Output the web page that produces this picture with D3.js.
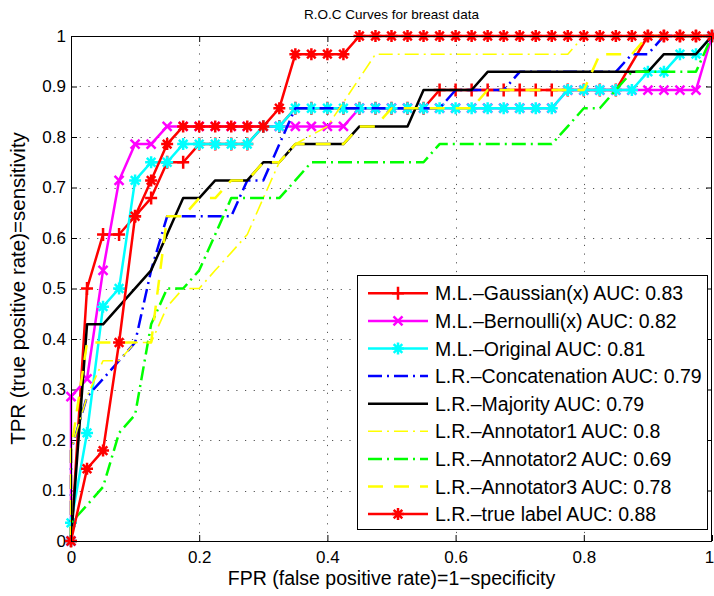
<!DOCTYPE html>
<html><head><meta charset="utf-8">
<script src="https://cdn.jsdelivr.net/npm/d3@7"></script>
<style>
body{margin:0;background:#fff}
svg{display:block}
text{font-family:"Liberation Sans",Arial,Helvetica,sans-serif;fill:#000}
</style>
</head><body>
<svg id="chart" width="714" height="596"></svg>
<script>
// ---------------- DATA (FPR, TPR pairs) ----------------
const gaussian = [[0,0],[0.025,0.5],[0.05,0.607],[0.075,0.607],[0.1,0.643],[0.125,0.679],[0.15,0.75],[0.175,0.75],[0.2,0.786],[0.225,0.786],[0.25,0.786],[0.275,0.786],[0.3,0.821],[0.325,0.821],[0.35,0.857],[0.375,0.857],[0.4,0.857],[0.425,0.857],[0.45,0.857],[0.475,0.857],[0.5,0.857],[0.525,0.857],[0.55,0.857],[0.575,0.893],[0.6,0.893],[0.625,0.893],[0.65,0.893],[0.675,0.893],[0.7,0.893],[0.725,0.893],[0.75,0.893],[0.775,0.893],[0.8,0.893],[0.825,0.893],[0.85,0.893],[0.9,1],[0.925,1],[0.95,1],[0.975,1],[1,1]];
const bernoulli = [[0,0],[0,0.286],[0.025,0.321],[0.05,0.536],[0.075,0.714],[0.1,0.786],[0.125,0.786],[0.15,0.821],[0.175,0.821],[0.2,0.821],[0.225,0.821],[0.25,0.821],[0.275,0.821],[0.3,0.821],[0.325,0.821],[0.35,0.821],[0.375,0.821],[0.4,0.821],[0.425,0.821],[0.45,0.857],[0.475,0.857],[0.5,0.857],[0.525,0.857],[0.55,0.857],[0.575,0.857],[0.6,0.857],[0.625,0.857],[0.65,0.857],[0.675,0.857],[0.7,0.857],[0.725,0.857],[0.75,0.857],[0.775,0.893],[0.8,0.893],[0.825,0.893],[0.85,0.893],[0.875,0.893],[0.9,0.893],[0.925,0.893],[0.95,0.893],[0.975,0.893],[1,1]];
const original = [[0,0],[0,0.036],[0.025,0.214],[0.05,0.464],[0.075,0.5],[0.1,0.714],[0.125,0.75],[0.15,0.75],[0.175,0.786],[0.2,0.786],[0.225,0.786],[0.25,0.786],[0.275,0.786],[0.3,0.821],[0.325,0.821],[0.35,0.857],[0.375,0.857],[0.4,0.857],[0.425,0.857],[0.45,0.857],[0.475,0.857],[0.5,0.857],[0.525,0.857],[0.55,0.857],[0.575,0.857],[0.6,0.857],[0.625,0.857],[0.65,0.857],[0.675,0.857],[0.7,0.857],[0.725,0.857],[0.75,0.857],[0.775,0.893],[0.8,0.893],[0.825,0.893],[0.85,0.893],[0.875,0.893],[0.9,0.929],[0.925,0.929],[0.95,0.964],[0.975,0.964],[1,1]];
const concatenation = [[0,0],[0,0.179],[0.025,0.286],[0.05,0.321],[0.075,0.357],[0.1,0.393],[0.125,0.536],[0.15,0.643],[0.25,0.643],[0.275,0.714],[0.3,0.714],[0.35,0.857],[0.575,0.857],[0.6,0.893],[0.675,0.893],[0.7,0.929],[0.85,0.929],[0.875,0.964],[0.9,0.964],[0.925,1],[1,1]];
const majority = [[0,0],[0.025,0.429],[0.05,0.429],[0.125,0.536],[0.175,0.679],[0.2,0.679],[0.225,0.714],[0.275,0.714],[0.3,0.75],[0.325,0.75],[0.35,0.786],[0.425,0.786],[0.45,0.821],[0.525,0.821],[0.55,0.893],[0.625,0.893],[0.65,0.929],[0.9,0.929],[0.925,0.964],[0.975,0.964],[1,1]];
const annotator1 = [[0,0],[0,0.179],[0.025,0.286],[0.05,0.357],[0.075,0.357],[0.1,0.393],[0.125,0.393],[0.15,0.464],[0.175,0.5],[0.2,0.5],[0.225,0.536],[0.25,0.571],[0.275,0.607],[0.3,0.679],[0.325,0.75],[0.35,0.786],[0.4,0.821],[0.475,0.964],[0.775,0.964],[0.8,1],[1,1]];
const annotator2 = [[0,0],[0,0.036],[0.025,0.071],[0.05,0.107],[0.075,0.214],[0.1,0.25],[0.125,0.429],[0.15,0.5],[0.175,0.5],[0.2,0.536],[0.225,0.607],[0.25,0.679],[0.325,0.679],[0.35,0.714],[0.375,0.75],[0.55,0.75],[0.575,0.786],[0.75,0.786],[0.775,0.821],[0.8,0.857],[0.825,0.857],[0.85,0.893],[0.875,0.929],[0.975,0.929],[1,1]];
const annotator3 = [[0,0],[0,0.179],[0.025,0.393],[0.125,0.393],[0.15,0.643],[0.175,0.643],[0.2,0.679],[0.225,0.679],[0.25,0.714],[0.275,0.714],[0.3,0.75],[0.325,0.75],[0.35,0.786],[0.425,0.786],[0.45,0.821],[0.475,0.821],[0.5,0.857],[0.625,0.857],[0.65,0.893],[0.8,0.893],[0.825,0.964],[0.875,0.964],[0.9,1],[1,1]];
const trueLabel = [[0,0],[0.025,0.143],[0.05,0.179],[0.075,0.393],[0.1,0.643],[0.125,0.714],[0.15,0.786],[0.175,0.821],[0.2,0.821],[0.225,0.821],[0.25,0.821],[0.275,0.821],[0.3,0.821],[0.325,0.857],[0.35,0.964],[0.375,0.964],[0.4,0.964],[0.425,0.964],[0.45,1],[0.475,1],[0.5,1],[0.525,1],[0.55,1],[0.575,1],[0.6,1],[0.625,1],[0.65,1],[0.675,1],[0.7,1],[0.725,1],[0.75,1],[0.775,1],[0.8,1],[0.825,1],[0.85,1],[0.875,1],[0.9,1],[0.925,1],[0.95,1],[0.975,1],[1,1]];

const seriesLabels = ["M.L.\u2013Gaussian(x) AUC: 0.83","M.L.\u2013Bernoulli(x) AUC: 0.82","M.L.\u2013Original AUC: 0.81","L.R.\u2013Concatenation AUC: 0.79","L.R.\u2013Majority AUC: 0.79","L.R.\u2013Annotator1 AUC: 0.8","L.R.\u2013Annotator2 AUC: 0.69","L.R.\u2013Annotator3 AUC: 0.78","L.R.\u2013true label AUC: 0.88"];
const xTickValues = [0,0.2,0.4,0.6,0.8,1];
const xTickLabels = ["0","0.2","0.4","0.6","0.8","1"];
const yTickValues = [0,0.1,0.2,0.3,0.4,0.5,0.6,0.7,0.8,0.9,1];
const yTickLabels = ["0","0.1","0.2","0.3","0.4","0.5","0.6","0.7","0.8","0.9","1"];
const titleText = "R.O.C Curves for breast data";
const xLabelText = "FPR (false positive rate)=1\u2212specificity";
const yLabelText = "TPR (true positive rate)=sensitivity";

// ---------------- STYLES ----------------
const DASHDOT = "14,5,2,5", DASHED = "15,11";
const styles = [
  {color:"#ff0000", dash:null,    marker:"+", w:2.5},
  {color:"#ff00ff", dash:null,    marker:"x", w:2.5},
  {color:"#00ffff", dash:null,    marker:"*", w:2.5},
  {color:"#0000ff", dash:DASHDOT, marker:null, w:2.5},
  {color:"#000000", dash:null,    marker:null, w:2.5},
  {color:"#ffff00", dash:DASHDOT, marker:null, w:1.6},
  {color:"#00ff00", dash:DASHDOT, marker:null, w:2.5},
  {color:"#ffff00", dash:DASHED,  marker:null, w:2.5},
  {color:"#ff0000", dash:null,    marker:"*", w:2.5}
];
const allData = [gaussian,bernoulli,original,concatenation,majority,annotator1,annotator2,annotator3,trueLabel];

// ---------------- DRAW ----------------
const svg = d3.select("#chart");
const L=71, R=712, T=36, B=541;
const x = d3.scaleLinear().domain([0,1]).range([L,R]);
const y = d3.scaleLinear().domain([0,1]).range([B,T]);

svg.append("rect").attr("width",714).attr("height",596).attr("fill","#fff");

// grid
const grid = svg.append("g").attr("stroke","#555").attr("stroke-width",1).attr("stroke-dasharray","1.2,7.5");
grid.selectAll("line.gx").data(xTickValues.slice(1,-1)).join("line")
  .attr("x1",d=>Math.round(x(d))+0.5).attr("x2",d=>Math.round(x(d))+0.5).attr("y1",T).attr("y2",B);
grid.selectAll("line.gy").data(yTickValues.slice(1,-1)).join("line")
  .attr("y1",d=>Math.round(y(d))+0.5).attr("y2",d=>Math.round(y(d))+0.5).attr("x1",L).attr("x2",R);

// axes
const fs = 17;
const ax = svg.append("g").attr("transform",`translate(0,${B})`)
  .call(d3.axisBottom(x).tickValues(xTickValues).tickFormat((d,i)=>xTickLabels[i]).tickSizeInner(-6).tickSizeOuter(0).tickPadding(10));
const ay = svg.append("g").attr("transform",`translate(${L},0)`)
  .call(d3.axisLeft(y).tickValues(yTickValues).tickFormat((d,i)=>yTickLabels[i]).tickSizeInner(-6).tickSizeOuter(0).tickPadding(5));
const axT = svg.append("g").attr("transform",`translate(0,${T})`)
  .call(d3.axisTop(x).tickValues(xTickValues).tickFormat("").tickSizeInner(-6).tickSizeOuter(0));
const ayR = svg.append("g").attr("transform",`translate(${R},0)`)
  .call(d3.axisRight(y).tickValues(yTickValues).tickFormat("").tickSizeInner(-6).tickSizeOuter(0));
[ax,ay,axT,ayR].forEach(g=>{
  g.select(".domain").remove();
  g.selectAll("line").attr("stroke","#000");
  g.selectAll("text").attr("font-size",fs).attr("font-family","Liberation Sans, Arial, sans-serif").attr("fill","#000");
});
ax.selectAll(".tick text").filter(d=>d===1).attr("dx",-3);

// curves
const line = d3.line().x(d=>x(d[0])).y(d=>y(d[1]));
function markerPath(m){
  if(m==="+") return "M-6,0H6M0,-6.5V6.5";
  if(m==="x") return "M-4.5,-4.5L4.5,4.5M-4.5,4.5L4.5,-4.5";
  if(m==="*") return "M-6,0H6M0,-6V6M-4.3,-4.3L4.3,4.3M-4.3,4.3L4.3,-4.3";
  return "";
}
allData.forEach((data,i)=>{
  const s = styles[i];
  const g = svg.append("g");
  g.append("path").datum(data).attr("d",line).attr("fill","none")
    .attr("stroke",s.color).attr("stroke-width",s.w)
    .attr("stroke-dasharray",s.dash).attr("stroke-linejoin","round");
  if(s.marker){
    g.selectAll("path.m").data(data).join("path").attr("class","m")
      .attr("transform",d=>`translate(${x(d[0])},${y(d[1])})`)
      .attr("d",markerPath(s.marker)).attr("fill","none")
      .attr("stroke",s.color).attr("stroke-width",2.5);
  }
});

// axes box
svg.append("rect").attr("x",L+0.5).attr("y",T+0.5).attr("width",R-L-1).attr("height",B-T)
  .attr("fill","none").attr("stroke","#000").attr("stroke-width",1);

// title & labels
svg.append("text").attr("x",(L+R)/2).attr("y",19).attr("text-anchor","middle")
  .attr("font-size",13.5).text(titleText);
svg.append("text").attr("x",(L+R)/2).attr("y",585).attr("text-anchor","middle")
  .attr("font-size",19.5).text(xLabelText);
svg.append("text").attr("transform",`translate(25,${(T+B)/2}) rotate(-90)`).attr("text-anchor","middle")
  .attr("font-size",20.5).text(yLabelText);

// legend
const lg = svg.append("g");
lg.append("rect").attr("x",357.5).attr("y",275.5).attr("width",350).attr("height",254)
  .attr("fill","#fff").attr("stroke","#000").attr("stroke-width",1);
seriesLabels.forEach((lab,i)=>{
  const s = styles[i];
  const cy = 293.3 + i*27.6;
  lg.append("line").attr("x1",368).attr("x2",428).attr("y1",cy).attr("y2",cy)
    .attr("stroke",s.color).attr("stroke-width",s.w).attr("stroke-dasharray",s.dash);
  if(s.marker){
    lg.append("path").attr("transform",`translate(398,${cy})`).attr("d",markerPath(s.marker))
      .attr("fill","none").attr("stroke",s.color).attr("stroke-width",2.5);
  }
  lg.append("text").attr("x",435).attr("y",cy).attr("dy","0.36em").attr("font-size",19.5).text(lab);
});
</script>
</body></html>
